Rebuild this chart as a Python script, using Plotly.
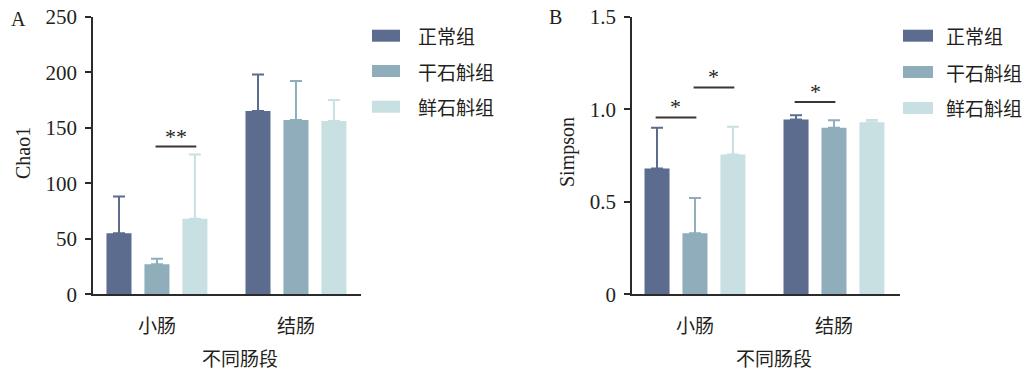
import plotly.graph_objects as go

# ---- data ----
segments = ["小肠", "结肠"]
groups = ["正常组", "干石斛组", "鲜石斛组"]
colors = ["#5b6c8f", "#8fadba", "#c9e0e3"]

chao1_mean = {"正常组": [55, 165], "干石斛组": [27, 157], "鲜石斛组": [68, 156]}
chao1_sd = {"正常组": [33, 33], "干石斛组": [5, 35], "鲜石斛组": [58, 19]}

simpson_mean = {"正常组": [0.68, 0.945], "干石斛组": [0.33, 0.90], "鲜石斛组": [0.756, 0.93]}
simpson_sd = {"正常组": [0.22, 0.022], "干石斛组": [0.19, 0.04], "鲜石斛组": [0.15, 0.012]}

chao1_ticks = [0, 50, 100, 150, 200, 250]
simpson_ticks = [0, 0.5, 1.0, 1.5]
simpson_ticktext = ["0", "0.5", "1.0", "1.5"]

# significance brackets: (segment index, group a, group b, level, label)
chao1_sig = [(0, 1, 2, 133, "**")]
simpson_sig = [(0, 0, 1, 0.956, "*"), (0, 1, 2, 1.118, "*"), (1, 0, 1, 1.039, "*")]

# ---- layout helpers ----
W, H = 1029, 372
SERIF = "Liberation Serif, Times New Roman, serif"
CJK = "Noto Sans CJK SC, sans-serif"
INK = "#231f20"
offsets = [-0.273, 0.0, 0.273]
bar_w = 0.18


def px(x):
    return x / W


def py(y):
    return 1 - y / H


fig = go.Figure()

panels = [
    dict(x="x", y="y", mean=chao1_mean, sd=chao1_sd, sig=chao1_sig),
    dict(x="x2", y="y2", mean=simpson_mean, sd=simpson_sd, sig=simpson_sig),
]

for p in panels:
    for gi, g in enumerate(groups):
        xs = [si + offsets[gi] for si in range(len(segments))]
        fig.add_trace(go.Bar(
            x=xs, y=p["mean"][g], width=bar_w, name=g,
            marker=dict(color=colors[gi], line=dict(width=0)),
            error_y=dict(type="data", symmetric=False, array=p["sd"][g],
                         arrayminus=[0] * len(segments), color=colors[gi],
                         thickness=2, width=6),
            xaxis=p["x"], yaxis=p["y"], showlegend=False,
        ))
    for seg, a, b, level, label in p["sig"]:
        x0 = seg + offsets[a] - 0.01
        x1 = seg + offsets[b] + 0.01
        fig.add_shape(type="line", x0=x0, x1=x1, y0=level, y1=level,
                      xref=p["x"], yref=p["y"],
                      line=dict(color="#3d3535", width=2))
        fig.add_annotation(x=(x0 + x1) / 2, y=level, xref=p["x"], yref=p["y"],
                           text=label, showarrow=False, yanchor="bottom",
                           yshift=-4, font=dict(family=SERIF, size=22, color=INK))

axis_common = dict(showline=True, linecolor="#2b2b2b", linewidth=1.5,
                   showgrid=False, zeroline=False, automargin=False)

fig.update_layout(
    template="none",
    width=W, height=H, margin=dict(l=0, r=0, t=0, b=0, pad=0),
    paper_bgcolor="white", plot_bgcolor="white", barmode="overlay",
    xaxis=dict(domain=[px(93), px(361)], range=[-0.46, 1.468],
               tickvals=[0, 1], ticktext=segments, ticks="",
               ticklabelstandoff=14, anchor="y",
               tickfont=dict(family=CJK, size=19, color=INK), **axis_common),
    yaxis=dict(domain=[py(294.3), py(16.7)], range=[0, 250],
               tickvals=chao1_ticks, ticks="outside", ticklen=6,
               tickwidth=1.5, tickcolor="#2b2b2b", ticklabelstandoff=4,
               anchor="x", tickfont=dict(family=SERIF, size=21, color=INK),
               **axis_common),
    xaxis2=dict(domain=[px(632), px(900)], range=[-0.453, 1.475],
                tickvals=[0, 1], ticktext=segments, ticks="",
                ticklabelstandoff=14, anchor="y2",
                tickfont=dict(family=CJK, size=19, color=INK), **axis_common),
    yaxis2=dict(domain=[py(294.3), py(16.7)], range=[0, 1.5],
                tickvals=simpson_ticks, ticktext=simpson_ticktext,
                ticks="outside", ticklen=6, tickwidth=1.5, tickcolor="#2b2b2b",
                ticklabelstandoff=4, anchor="x2",
                tickfont=dict(family=SERIF, size=21, color=INK), **axis_common),
)

# axis titles and panel letters
texts = [
    ("A", 18, 19, SERIF, 20, 0),
    ("B", 555, 17, SERIF, 20, 0),
    ("Chao1", 23, 153, SERIF, 20, -90),
    ("Simpson", 567, 152, SERIF, 20, -90),
    ("不同肠段", 240, 357, CJK, 19, 0),
    ("不同肠段", 774, 357, CJK, 19, 0),
]
for t, x, y, fam, size, ang in texts:
    fig.add_annotation(x=px(x), y=py(y), xref="paper", yref="paper", text=t,
                       showarrow=False, textangle=ang, xanchor="center",
                       yanchor="middle", font=dict(family=fam, size=size, color=INK))

# legends drawn as swatches plus labels
legend_spots = [(372, 400, 416, [35.7, 71, 106.7]), (903, 933, 944, [35.7, 72, 108])]
for sx0, sx1, tx, rows in legend_spots:
    for gi, g in enumerate(groups):
        yc = rows[gi]
        fig.add_shape(type="rect", xref="paper", yref="paper",
                      x0=px(sx0), x1=px(sx1), y0=py(yc + 6), y1=py(yc - 6),
                      fillcolor=colors[gi], line=dict(width=0))
        fig.add_annotation(x=px(tx), y=py(yc), xref="paper", yref="paper",
                           text=g, showarrow=False, xanchor="left", yanchor="middle",
                           font=dict(family=CJK, size=19, color=INK))

fig.write_html("out.html")
